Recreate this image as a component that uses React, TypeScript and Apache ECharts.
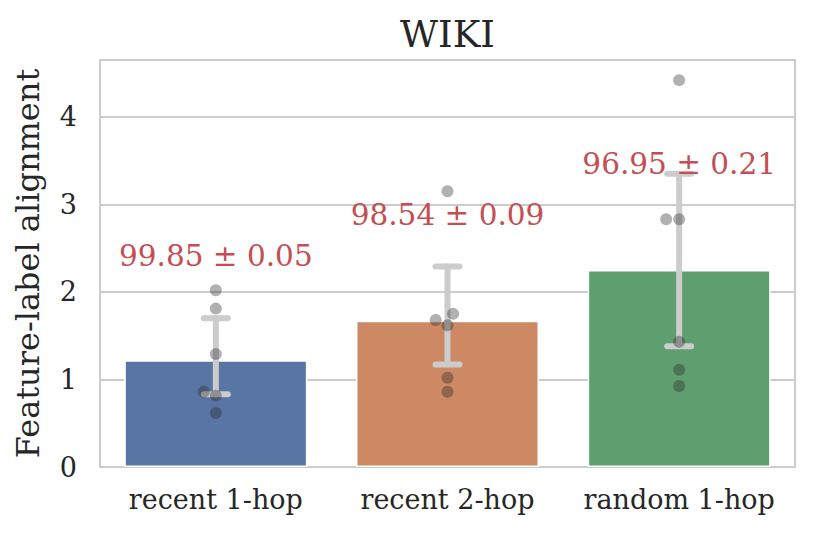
import React, { useEffect, useRef } from "react";
import * as echarts from "echarts";

const categories = ["recent 1-hop", "recent 2-hop", "random 1-hop"];
const barValues = [1.22, 1.67, 2.25];
const errLow = [0.83, 1.17, 1.38];
const errHigh = [1.7, 2.29, 3.35];
const barColors = ["#5975a4", "#cc8963", "#5f9e6e"];
// individual runs: [category position (with swarm offset), value]
const points: [number, number][] = [
  [0, 2.02], [0, 1.81], [0, 1.29], [-0.052, 0.86], [0, 0.815], [0, 0.617],
  [1, 3.15], [0.949, 1.68], [1.024, 1.75], [1, 1.62], [1, 1.02], [1, 0.86],
  [2, 4.42], [1.944, 2.83], [2, 2.83], [2, 1.43], [2, 1.11], [2, 0.926],
];
const annotations = ["99.85 ± 0.05", "98.54 ± 0.09", "96.95 ± 0.21"];
const annotationY = [2.41, 2.88, 3.46];
const yTicks = [0, 1, 2, 3, 4];
const yMax = 4.65;

const FONT = "DejaVu Serif";
const INK = "#262626";

export default function App() {
  const ref = useRef<HTMLDivElement>(null);
  useEffect(() => {
    if (!ref.current) return;
    const chart = echarts.init(ref.current, undefined, { renderer: "svg" });
    chart.setOption({
      animation: false,
      backgroundColor: "#ffffff",
      graphic: [
        {
          type: "text",
          x: 447.5,
          y: 34,
          style: {
            text: "WIKI",
            fontFamily: FONT,
            fontSize: 37,
            fill: INK,
            align: "center",
            verticalAlign: "middle",
          },
        },
      ],
      grid: {
        left: 100,
        right: 18,
        top: 60,
        bottom: 68,
        show: true,
        borderColor: "#cccccc",
        borderWidth: 2,
        backgroundColor: "transparent",
      },
      xAxis: [
        {
          type: "category",
          data: categories,
          axisLine: { show: false },
          axisTick: { show: false },
          axisLabel: {
            fontFamily: FONT,
            fontSize: 27,
            color: INK,
            margin: 19,
            interval: 0,
            hideOverlap: false,
          },
          splitLine: { show: false },
        },
        { type: "value", min: -0.5, max: 2.5, show: false },
      ],
      yAxis: {
        type: "value",
        min: 0,
        max: yMax,
        interval: 1,
        name: "Feature-label alignment",
        nameLocation: "middle",
        nameGap: 56,
        nameTextStyle: { fontFamily: FONT, fontSize: 32, color: INK },
        axisLine: { show: false },
        axisTick: { show: false },
        axisLabel: {
          fontFamily: FONT,
          fontSize: 27,
          color: INK,
          margin: 23,
          formatter: (v: number) => (yTicks.includes(v) ? String(v) : ""),
        },
        splitLine: { lineStyle: { color: "#cccccc", width: 2 } },
      },
      series: [
        {
          type: "bar",
          xAxisIndex: 0,
          barWidth: "79%",
          data: barValues.map((v, i) => ({
            value: v,
            itemStyle: { color: barColors[i], borderColor: "#ffffff", borderWidth: 1.5 },
          })),
          z: 2,
        },
        {
          type: "custom",
          xAxisIndex: 0,
          z: 3,
          data: categories.map((_, i) => [i, errLow[i], errHigh[i]]),
          renderItem: (params: any, api: any) => {
            const i = api.value(0);
            const lo = api.coord([i, api.value(1)]);
            const hi = api.coord([i, api.value(2)]);
            const half = 12;
            const style = { stroke: "#cccccc", lineWidth: 6, lineCap: "round" };
            return {
              type: "group",
              children: [
                { type: "line", shape: { x1: lo[0], y1: lo[1], x2: hi[0], y2: hi[1] }, style },
                { type: "line", shape: { x1: lo[0] - half, y1: lo[1], x2: lo[0] + half, y2: lo[1] }, style },
                { type: "line", shape: { x1: hi[0] - half, y1: hi[1], x2: hi[0] + half, y2: hi[1] }, style },
              ],
            };
          },
        },
        {
          type: "scatter",
          xAxisIndex: 1,
          z: 4,
          symbolSize: 12,
          itemStyle: { color: "rgba(40,40,40,0.45)" },
          data: points,
        },
        {
          type: "custom",
          xAxisIndex: 0,
          z: 5,
          data: categories.map((_, i) => [i, annotationY[i]]),
          renderItem: (params: any, api: any) => {
            const p = api.coord([api.value(0), api.value(1)]);
            return {
              type: "text",
              x: p[0],
              y: p[1],
              style: {
                text: annotations[params.dataIndex],
                fill: "#c44e52",
                fontFamily: FONT,
                fontSize: 29.5,
                align: "center",
                verticalAlign: "middle",
              },
            };
          },
        },
      ],
    });
    return () => chart.dispose();
  }, []);
  return (
    <div
      ref={ref}
      style={{ position: "fixed", left: 0, top: 0, width: 813, height: 535, background: "#fff" }}
    />
  );
}
